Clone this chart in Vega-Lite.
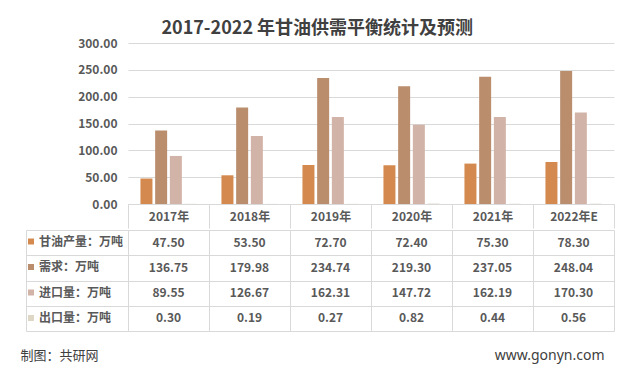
{
  "$schema": "https://vega.github.io/schema/vega-lite/v6.json",
  "background": "white",
  "padding": {"left": 20, "top": 20, "right": 12, "bottom": 12},
  "title": {
    "text": "2017-2022 年甘油供需平衡统计及预测",
    "font": "Noto Sans CJK SC",
    "fontSize": 18,
    "fontWeight": "bold",
    "color": "#404040",
    "anchor": "middle",
    "offset": -1
  },
  "spacing": 0,
  "config": {
    "view": {"stroke": null},
    "font": "Noto Sans CJK SC"
  },
  "data": {
    "values": [
      {"year": "2017年", "series": "甘油产量：万吨", "value": 47.50},
      {"year": "2018年", "series": "甘油产量：万吨", "value": 53.50},
      {"year": "2019年", "series": "甘油产量：万吨", "value": 72.70},
      {"year": "2020年", "series": "甘油产量：万吨", "value": 72.40},
      {"year": "2021年", "series": "甘油产量：万吨", "value": 75.30},
      {"year": "2022年E", "series": "甘油产量：万吨", "value": 78.30},
      {"year": "2017年", "series": "需求：万吨", "value": 136.75},
      {"year": "2018年", "series": "需求：万吨", "value": 179.98},
      {"year": "2019年", "series": "需求：万吨", "value": 234.74},
      {"year": "2020年", "series": "需求：万吨", "value": 219.30},
      {"year": "2021年", "series": "需求：万吨", "value": 237.05},
      {"year": "2022年E", "series": "需求：万吨", "value": 248.04},
      {"year": "2017年", "series": "进口量：万吨", "value": 89.55},
      {"year": "2018年", "series": "进口量：万吨", "value": 126.67},
      {"year": "2019年", "series": "进口量：万吨", "value": 162.31},
      {"year": "2020年", "series": "进口量：万吨", "value": 147.72},
      {"year": "2021年", "series": "进口量：万吨", "value": 162.19},
      {"year": "2022年E", "series": "进口量：万吨", "value": 170.30},
      {"year": "2017年", "series": "出口量：万吨", "value": 0.30},
      {"year": "2018年", "series": "出口量：万吨", "value": 0.19},
      {"year": "2019年", "series": "出口量：万吨", "value": 0.27},
      {"year": "2020年", "series": "出口量：万吨", "value": 0.82},
      {"year": "2021年", "series": "出口量：万吨", "value": 0.44},
      {"year": "2022年E", "series": "出口量：万吨", "value": 0.56}
    ]
  },
  "vconcat": [
    {
      "width": 486,
      "height": 161,
      "mark": {"type": "bar"},
      "encoding": {
        "x": {
          "field": "year",
          "type": "nominal",
          "scale": {"paddingInner": 0, "paddingOuter": 0},
          "axis": {
            "title": null,
            "labelAngle": 0,
            "domain": true,
            "domainColor": "#d9d9d9",
            "ticks": true,
            "tickBand": "extent",
            "tickSize": 24,
            "tickColor": "#d9d9d9",
            "labelFontSize": 12,
            "labelFontWeight": "bold",
            "labelColor": "#595959",
            "labelBaseline": "middle",
            "labelPadding": -12
          }
        },
        "xOffset": {
          "field": "series",
          "type": "nominal",
          "sort": ["甘油产量：万吨", "需求：万吨", "进口量：万吨", "出口量：万吨"],
          "scale": {"paddingInner": 0.184, "paddingOuter": 0.847}
        },
        "y": {
          "field": "value",
          "type": "quantitative",
          "scale": {"domain": [0, 300]},
          "axis": {
            "title": null,
            "values": [0, 50, 100, 150, 200, 250, 300],
            "format": ".2f",
            "grid": true,
            "gridColor": "#d9d9d9",
            "domain": false,
            "ticks": false,
            "labelPadding": 11,
            "labelFontSize": 12,
            "labelFontWeight": "bold",
            "labelColor": "#595959"
          }
        },
        "color": {
          "field": "series",
          "type": "nominal",
          "scale": {
            "domain": ["甘油产量：万吨", "需求：万吨", "进口量：万吨", "出口量：万吨"],
            "range": ["#D48A4E", "#BA8D6D", "#D2B3A7", "#DED7C6"]
          },
          "legend": {
            "title": null,
            "orient": "none",
            "legendX": -103,
            "legendY": 192.5,
            "direction": "vertical",
            "symbolType": "square",
            "symbolSize": 36,
            "symbolStrokeWidth": 0,
            "labelFontSize": 12,
            "labelFontWeight": "bold",
            "labelColor": "#595959",
            "labelLimit": 200,
            "labelOffset": 2,
            "rowPadding": 13.5
          }
        }
      }
    },
    {
      "width": 486,
      "height": 101,
      "mark": {"type": "text", "fontSize": 12, "fontWeight": "bold", "color": "#595959"},
      "encoding": {
        "x": {
          "field": "year",
          "type": "nominal",
          "scale": {"paddingInner": 0, "paddingOuter": 0},
          "axis": {
            "grid": true,
            "tickBand": "extent",
            "gridColor": "#d9d9d9",
            "labels": false,
            "ticks": false,
            "domain": false,
            "title": "www.gonyn.com",
            "titleFont": "Noto Sans",
            "titleFontSize": 14,
            "titleFontWeight": "normal",
            "titleColor": "#404040",
            "titleX": 476,
            "titleY": 24,
            "titleAlign": "right",
            "titleBaseline": "middle"
          }
        },
        "y": {
          "field": "series",
          "type": "nominal",
          "sort": ["甘油产量：万吨", "需求：万吨", "进口量：万吨", "出口量：万吨"],
          "scale": {"paddingInner": 0, "paddingOuter": 0},
          "axis": {
            "grid": true,
            "tickBand": "extent",
            "gridColor": "#d9d9d9",
            "labels": false,
            "ticks": true,
            "tickSize": -102,
            "tickColor": "#d9d9d9",
            "offset": 102,
            "domain": true,
            "domainColor": "#d9d9d9",
            "title": "制图：共研网",
            "titleAngle": 0,
            "titleAlign": "left",
            "titleBaseline": "middle",
            "titleX": -6,
            "titleY": 125,
            "titleFontSize": 13,
            "titleFontWeight": "normal",
            "titleColor": "#404040"
          }
        },
        "text": {"field": "value", "type": "quantitative", "format": ".2f"}
      }
    }
  ]
}
